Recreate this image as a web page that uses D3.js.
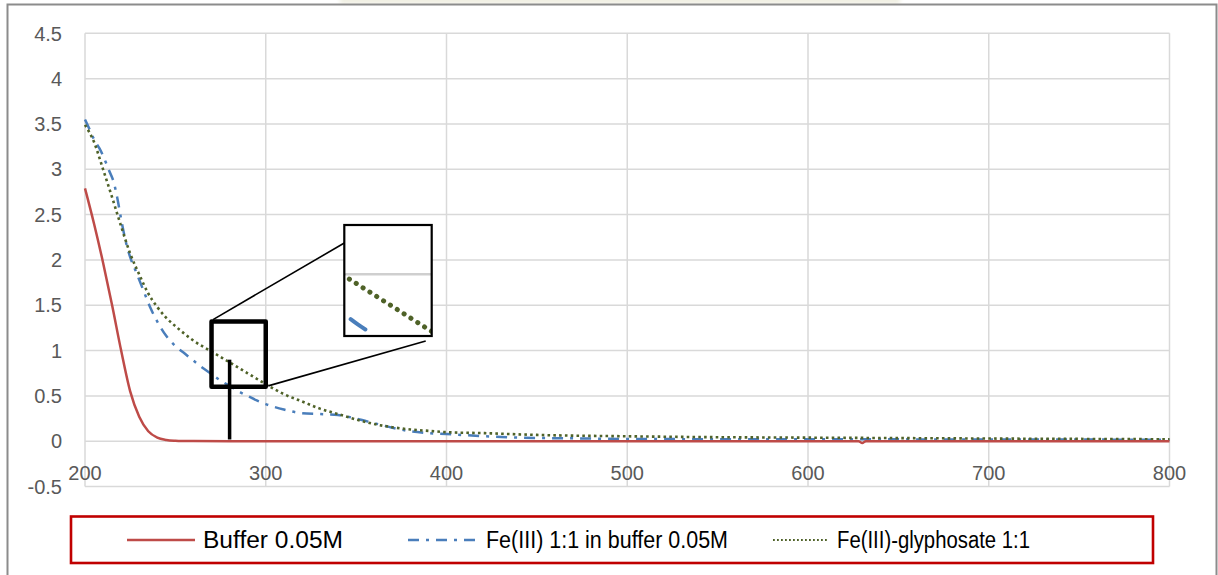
<!DOCTYPE html>
<html>
<head>
<meta charset="utf-8">
<script src="https://cdn.jsdelivr.net/npm/d3@7"></script>
<style>
  html, body { margin: 0; padding: 0; background: #fff; }
  svg { display: block; }
</style>
</head>
<body>
<svg id="chart" width="1218" height="575"></svg>
<script>
// Absorbance spectra, wavelength in nm
const bufferWl   = [200, 205, 210, 215, 220, 225, 230, 235, 240, 245, 250, 255, 260, 280, 320, 400, 500, 600, 628, 630, 632, 700, 800];
const bufferAbs  = [2.79, 2.40, 1.97, 1.50, 1.00, 0.55, 0.27, 0.11, 0.04, 0.015, 0.006, 0.003, 0.002, 0.001, 0.001, 0.001, 0.001, 0.001, 0.001, -0.02, 0.001, 0.001, 0.001];

const feWl  = [200, 203, 205, 208, 210, 213, 216, 218, 220, 222, 225, 228, 230, 233, 236, 240, 245, 250, 255, 260, 265, 270, 275, 280, 285, 290, 295, 300, 310, 320, 330, 340, 350, 360, 370, 380, 390, 400, 420, 440, 470, 500, 600, 700, 800];
const feAbs = [3.55, 3.42, 3.33, 3.23, 3.15, 3.00, 2.85, 2.67, 2.45, 2.25, 2.03, 1.88, 1.78, 1.63, 1.48, 1.32, 1.16, 1.05, 0.97, 0.89, 0.81, 0.74, 0.67, 0.61, 0.55, 0.50, 0.45, 0.41, 0.35, 0.31, 0.30, 0.29, 0.25, 0.20, 0.15, 0.11, 0.09, 0.08, 0.056, 0.04, 0.032, 0.025, 0.022, 0.02, 0.017];

const glyWl  = [200, 205, 210, 215, 220, 225, 230, 235, 240, 245, 250, 260, 270, 280, 290, 300, 310, 320, 330, 340, 350, 360, 370, 380, 390, 400, 420, 450, 500, 550, 600, 650, 700, 750, 800];
const glyAbs = [3.49, 3.30, 3.00, 2.69, 2.37, 2.07, 1.84, 1.63, 1.48, 1.36, 1.27, 1.11, 0.99, 0.87, 0.75, 0.63, 0.52, 0.44, 0.36, 0.30, 0.24, 0.19, 0.155, 0.13, 0.115, 0.10, 0.09, 0.07, 0.055, 0.045, 0.04, 0.035, 0.03, 0.026, 0.022];

const seriesNames = ["Buffer 0.05M", "Fe(III) 1:1 in buffer 0.05M", "Fe(III)-glyphosate 1:1"];
const xTicks = [200, 300, 400, 500, 600, 700, 800];
const yTicks = [-0.5, 0, 0.5, 1, 1.5, 2, 2.5, 3, 3.5, 4, 4.5];

// magnified window (wavelength range, absorbance range) and the marker wavelength
const zoomWl = [270, 300];
const zoomAbs = [0.6, 1.32];
const markerWl = 280;
const markerAbs = [0.02, 0.9];

// ---- layout ----
const W = 1218, H = 575;
const plot = { left: 85, right: 1169.5, top: 33.3, bottom: 486.6 };
const inset = { left: 344.3, right: 431.7, top: 225, bottom: 336 };

const svg = d3.select("#chart");

const x = d3.scaleLinear().domain([200, 800]).range([plot.left, plot.right]);
const y = d3.scaleLinear().domain([-0.5, 4.5]).range([plot.bottom, plot.top]);

const colors = { buffer: "#be4b48", fe: "#4a7ebb", gly: "#4f6228" };
const styles = [
  { key: "buffer", color: colors.buffer, width: 2.5, dash: null, cap: "butt" },
  { key: "fe",     color: colors.fe,     width: 2.5, dash: "11,7,3,7", cap: "butt" },
  { key: "gly",    color: colors.gly,    width: 2.6, dash: "2.6,3.2", cap: "butt" }
];
const series = [
  bufferWl.map((w, i) => [w, bufferAbs[i]]),
  feWl.map((w, i) => [w, feAbs[i]]),
  glyWl.map((w, i) => [w, glyAbs[i]])
];

// faint band above the frame
const defs = svg.append("defs");
defs.append("filter").attr("id", "soft")
  .append("feGaussianBlur").attr("stdDeviation", 2);
svg.append("rect").attr("x", 340).attr("y", -4).attr("width", 560).attr("height", 8)
  .attr("fill", "#e9e8d6").attr("opacity", 0.7).attr("filter", "url(#soft)");

// outer frame (top, left, right)
svg.append("path")
  .attr("d", `M7.5,${H} V4.5 H1216.5 V${H}`)
  .attr("fill", "none").attr("stroke", "#8c8c8c").attr("stroke-width", 2);

// gridlines
const grid = svg.append("g").attr("stroke", "#d9d9d9").attr("stroke-width", 1.5);
grid.selectAll("line.v").data(xTicks).join("line").attr("class", "v")
  .attr("x1", d => x(d)).attr("x2", d => x(d))
  .attr("y1", plot.top).attr("y2", plot.bottom);
grid.selectAll("line.h").data(yTicks).join("line").attr("class", "h")
  .attr("x1", plot.left).attr("x2", plot.right)
  .attr("y1", d => y(d)).attr("y2", d => y(d));

// y axis labels
const fontTick = "'Liberation Sans', Arial, sans-serif";
svg.append("g").selectAll("text").data(yTicks).join("text")
  .attr("x", 62).attr("y", d => y(d)).attr("dy", "0.36em")
  .attr("text-anchor", "end")
  .attr("font-family", fontTick).attr("font-size", 20).attr("fill", "#595959")
  .text(d => d);

// x axis labels, hung just below the zero line
svg.append("g").selectAll("text").data(xTicks).join("text")
  .attr("x", d => x(d)).attr("y", y(0) + 39)
  .attr("text-anchor", "middle")
  .attr("font-family", fontTick).attr("font-size", 20).attr("fill", "#595959")
  .text(d => d);

// spectra
const line = d3.line().x(d => x(d[0])).y(d => y(d[1])).curve(d3.curveMonotoneX);
const order = [1, 2, 0];
order.forEach(i => {
  const s = styles[i];
  svg.append("path").datum(series[i])
    .attr("fill", "none").attr("stroke", s.color).attr("stroke-width", s.width)
    .attr("stroke-dasharray", s.dash).attr("stroke-linecap", s.cap)
    .attr("stroke-linejoin", "round")
    .attr("d", line);
});

// ---- magnified window ----
const xi = d3.scaleLinear().domain(zoomWl).range([inset.left, inset.right]);
const yi = d3.scaleLinear().domain([zoomAbs[1], zoomAbs[0]]).range([inset.top, inset.bottom]);

// connector lines from the selection box to the magnified view
const conn = svg.append("g").attr("stroke", "#000").attr("stroke-width", 1.6);
conn.append("line")
  .attr("x1", x(zoomWl[0]) + 1.5).attr("y1", y(zoomAbs[1]) - 2)
  .attr("x2", inset.left).attr("y2", inset.top + 18);
conn.append("line")
  .attr("x1", x(zoomWl[1]) + 2.5).attr("y1", y(zoomAbs[0]) - 1)
  .attr("x2", inset.right - 6).attr("y2", inset.bottom + 5);

// selection box
svg.append("rect")
  .attr("x", x(zoomWl[0])).attr("y", y(zoomAbs[1]))
  .attr("width", x(zoomWl[1]) - x(zoomWl[0]))
  .attr("height", y(zoomAbs[0]) - y(zoomAbs[1]))
  .attr("fill", "none").attr("stroke", "#000").attr("stroke-width", 4.5)
  .attr("stroke-linejoin", "round");

// marker at 280 nm
svg.append("line")
  .attr("x1", x(markerWl)).attr("x2", x(markerWl))
  .attr("y1", y(markerAbs[1])).attr("y2", y(markerAbs[0]))
  .attr("stroke", "#000").attr("stroke-width", 3.5);

// inset content
defs.append("clipPath").attr("id", "insetClip")
  .append("rect").attr("x", inset.left).attr("y", inset.top)
  .attr("width", inset.right - inset.left).attr("height", inset.bottom - inset.top);
const ig = svg.append("g").attr("clip-path", "url(#insetClip)");
ig.append("rect").attr("x", inset.left).attr("y", inset.top)
  .attr("width", inset.right - inset.left).attr("height", inset.bottom - inset.top)
  .attr("fill", "#fff");
ig.selectAll("line.ig").data(yTicks.filter(t => t >= zoomAbs[0] && t <= zoomAbs[1]))
  .join("line").attr("class", "ig")
  .attr("x1", inset.left).attr("x2", inset.right)
  .attr("y1", d => yi(d)).attr("y2", d => yi(d))
  .attr("stroke", "#cfcfcf").attr("stroke-width", 2.5);
const lineI = d3.line().x(d => xi(d[0])).y(d => yi(d[1])).curve(d3.curveMonotoneX);
ig.append("path").datum(series[1].filter(d => d[0] >= 265 && d[0] <= 290))
  .attr("fill", "none").attr("stroke", colors.fe).attr("stroke-width", 4)
  .attr("stroke-linecap", "round").attr("stroke-dasharray", "0,26,18,100")
  .attr("d", lineI);
ig.append("path").datum(series[2].filter(d => d[0] >= 260 && d[0] <= 310))
  .attr("fill", "none").attr("stroke", colors.gly).attr("stroke-width", 5)
  .attr("stroke-linecap", "round").attr("stroke-dasharray", "0.1,8")
  .attr("d", lineI);
svg.append("rect")
  .attr("x", inset.left).attr("y", inset.top)
  .attr("width", inset.right - inset.left).attr("height", inset.bottom - inset.top)
  .attr("fill", "none").attr("stroke", "#000").attr("stroke-width", 2.2);

// ---- legend ----
svg.append("rect")
  .attr("x", 71).attr("y", 516.5).attr("width", 1082).attr("height", 46.5)
  .attr("fill", "none").attr("stroke", "#c00000").attr("stroke-width", 2.6);
const legendItems = [
  { x0: 127, x1: 195, tx: 203, tw: 140 },
  { x0: 408, x1: 478, tx: 486, tw: 242 },
  { x0: 773, x1: 829, tx: 837, tw: 193 }
];
legendItems.forEach((it, i) => {
  const s = styles[i];
  svg.append("line")
    .attr("x1", it.x0).attr("x2", it.x1).attr("y1", 540).attr("y2", 540)
    .attr("stroke", s.color).attr("stroke-width", i === 2 ? 2.2 : 2.5)
    .attr("stroke-dasharray", i === 2 ? "1.8,2.2" : s.dash);
  svg.append("text")
    .attr("x", it.tx).attr("y", 548)
    .attr("font-family", fontTick).attr("font-size", 23).attr("fill", "#000")
    .attr("textLength", it.tw).attr("lengthAdjust", "spacingAndGlyphs")
    .text(seriesNames[i]);
});
</script>
</body>
</html>
